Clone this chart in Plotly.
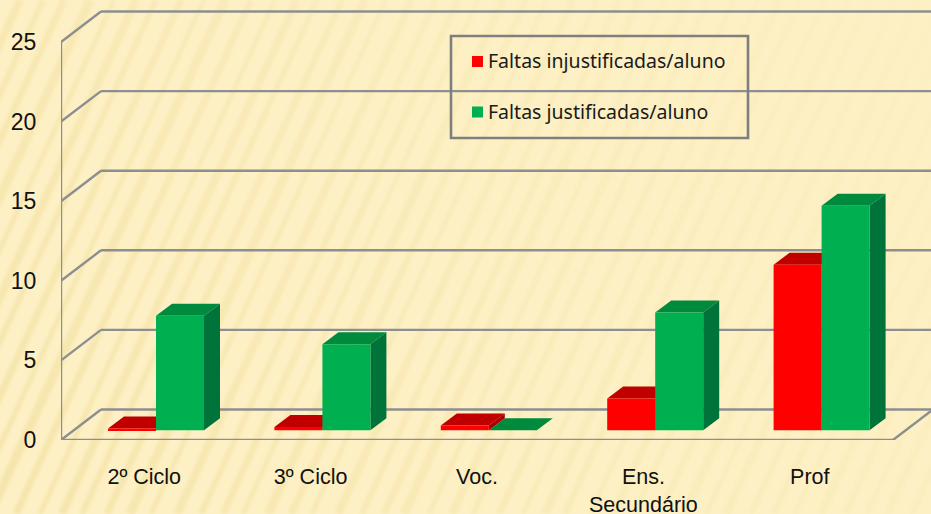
import base64
import plotly.graph_objects as go

categories = ["2º Ciclo", "3º Ciclo", "Voc.", "Ens.<br>Secundário", "Prof"]
injustificadas = [0.12, 0.2, 0.3, 2.0, 10.4]
justificadas = [7.2, 5.4, 0.0, 7.4, 14.1]
y_ticks = [0, 5, 10, 15, 20, 25]
name_inj = "Faltas injustificadas/aluno"
name_jus = "Faltas justificadas/aluno"

W, H = 931, 514
PX_X = 166.4   # px per category
PX_Y = 15.92   # px per unit
L, B = 61, 74
XR = [-0.5, -0.5 + (W - L) / PX_X]
YR = [0, (H - B) / PX_Y]
WALL_DX, WALL_DY = 40 / PX_X, 30.5 / PX_Y
BAR_X, BAR_BASE = 11.8 / PX_X, 9.7 / PX_Y
BAR_W = 48 / PX_X
DEP_X, DEP_Y = 16 / PX_X, 12 / PX_Y
GRID = "#8C8E90"

# paper background texture
stripes = []
x = -260
widths = [7, 5, 8, 6, 7, 9, 5, 8, 6, 7, 5, 9]
i = 0
while x < W + 40:
    w = widths[i % len(widths)]
    stripes.append(f'<line x1="{x}" y1="{H}" x2="{x+235}" y2="0" stroke-width="{w}"/>')
    x += 20 + (i * 5) % 7
    i += 1
svg = (f'<svg xmlns="http://www.w3.org/2000/svg" width="{W}" height="{H}" viewBox="0 0 {W} {H}">'
       '<defs><filter id="b"><feGaussianBlur stdDeviation="1.8"/></filter>'
       f'<linearGradient id="g" gradientUnits="userSpaceOnUse" x1="0" y1="{H}" x2="{W}" y2="0">'
       '<stop offset="0" stop-color="#F3E1A4" stop-opacity="0.75"/>'
       '<stop offset="0.55" stop-color="#F5E5AC" stop-opacity="0.4"/>'
       '<stop offset="1" stop-color="#F6E6AE" stop-opacity="0.12"/></linearGradient></defs>'
       f'<rect width="{W}" height="{H}" fill="#FDF0C4"/>'
       f'<g stroke="url(#g)" filter="url(#b)">{"".join(stripes)}</g></svg>')
bg = "data:image/svg+xml;base64," + base64.b64encode(svg.encode()).decode()

shapes = []
def seg(x0, y0, x1, y1):
    shapes.append(dict(type="line", xref="x", yref="y", x0=x0, y0=y0, x1=x1, y1=y1,
                       layer="below", line=dict(color=GRID, width=2.4)))

x_right = len(categories) - 0.5
for t in y_ticks:
    seg(-0.5, t, -0.5 + WALL_DX, t + WALL_DY)
    seg(-0.5 + WALL_DX, t + WALL_DY, x_right + WALL_DX, t + WALL_DY)
seg(-0.5, 0, -0.5, y_ticks[-1])
seg(-0.5, 0, x_right, 0)
seg(x_right, 0, x_right + WALL_DX, WALL_DY)

def px(v):
    return (v - L) / (W - L)
def py(v):
    return 1 - v / (H - B)

# legend box and swatches
shapes.append(dict(type="rect", xref="paper", yref="paper", x0=px(451), x1=px(748), y0=py(138), y1=py(36),
                   line=dict(color="#7F7F7F", width=2.6)))
for yc, col in ((61.5, "#FF0000"), (112, "#00B050")):
    shapes.append(dict(type="rect", xref="paper", yref="paper", x0=px(472), x1=px(483), y0=py(yc + 5.5), y1=py(yc - 5.5),
                       fillcolor=col, line=dict(width=0)))

annotations = [dict(xref="paper", yref="paper", x=px(486), y=py(yc), text=tx, showarrow=False,
                    xanchor="left", yanchor="middle", xshift=0,
                    font=dict(family="Noto Sans", size=19.5, color="#1A1A1A"))
               for yc, tx in ((60.5, name_inj), (111.5, name_jus))]

def faces(vals, left_shift):
    top_x, top_y, side_x, side_y = [], [], [], []
    for i, v in enumerate(vals):
        xr = i + BAR_X + left_shift + BAR_W
        xl = i + BAR_X + left_shift
        b = BAR_BASE
        t = b + v
        top_x += [xl, xl + DEP_X, xr + DEP_X, xr, xl, None]
        top_y += [t, t + DEP_Y, t + DEP_Y, t, t, None]
        side_x += [xr, xr, xr + DEP_X, xr + DEP_X, xr, None]
        side_y += [b, t, t + DEP_Y, b + DEP_Y, b, None]
    return top_x, top_y, side_x, side_y

def poly(xs, ys, col):
    return go.Scatter(x=xs, y=ys, mode="lines", fill="toself", fillcolor=col,
                      line=dict(width=0, color=col), showlegend=False, hoverinfo="skip")

gt_x, gt_y, gs_x, gs_y = faces(justificadas, 0)
rt_x, rt_y, rs_x, rs_y = faces(injustificadas, -BAR_W)

fig = go.Figure()
fig.add_trace(poly(gt_x, gt_y, "#008A3E"))
fig.add_trace(poly(gs_x, gs_y, "#00733A"))
fig.add_trace(poly(rt_x, rt_y, "#C00000"))
fig.add_trace(poly(rs_x, rs_y, "#A80000"))

xpos = [i + BAR_X for i in range(len(categories))]
base = [BAR_BASE] * len(categories)
fig.add_trace(go.Bar(x=xpos, y=injustificadas, base=base, name=name_inj, marker_color="#FF0000",
                     marker_line_width=0, xaxis="x2", yaxis="y2", showlegend=False))
fig.add_trace(go.Bar(x=xpos, y=justificadas, base=base, name=name_jus, marker_color="#00B050",
                     marker_line_width=0, xaxis="x2", yaxis="y2", showlegend=False))

fig.update_layout(
    width=W, height=H, autosize=False,
    margin=dict(l=L, r=0, t=0, b=B, pad=0),
    paper_bgcolor="#FDF0C4", plot_bgcolor="rgba(0,0,0,0)",
    barmode="group", bargap=1 - 2 * BAR_W, bargroupgap=0,
    showlegend=False, shapes=shapes, annotations=annotations,
    images=[dict(source=bg, xref="paper", yref="paper", x=-L / (W - L), y=1,
                 sizex=W / (W - L), sizey=H / (H - B),
                 xanchor="left", yanchor="top", sizing="stretch", layer="below")],
    font=dict(family="Liberation Sans", color="#111111"),
    xaxis=dict(range=XR, tickmode="array", tickvals=list(range(len(categories))), ticktext=categories,
               showgrid=False, zeroline=False, showline=False, ticks="outside", ticklen=17, automargin=False,
               tickcolor="rgba(0,0,0,0)", tickfont=dict(size=21.5), tickangle=0),
    yaxis=dict(range=YR, tickmode="array", tickvals=y_ticks, showgrid=False, zeroline=False, automargin=False,
               showline=False, ticks="outside", ticklen=19, tickcolor="rgba(0,0,0,0)",
               tickfont=dict(size=23)),
    xaxis2=dict(range=XR, overlaying="x", visible=False, anchor="y2"),
    yaxis2=dict(range=YR, overlaying="y", visible=False, anchor="x2"),
)
fig.write_html("out.html", config=dict(displayModeBar=False),
               post_script="document.body.style.margin='0';document.body.style.overflow='hidden';")
